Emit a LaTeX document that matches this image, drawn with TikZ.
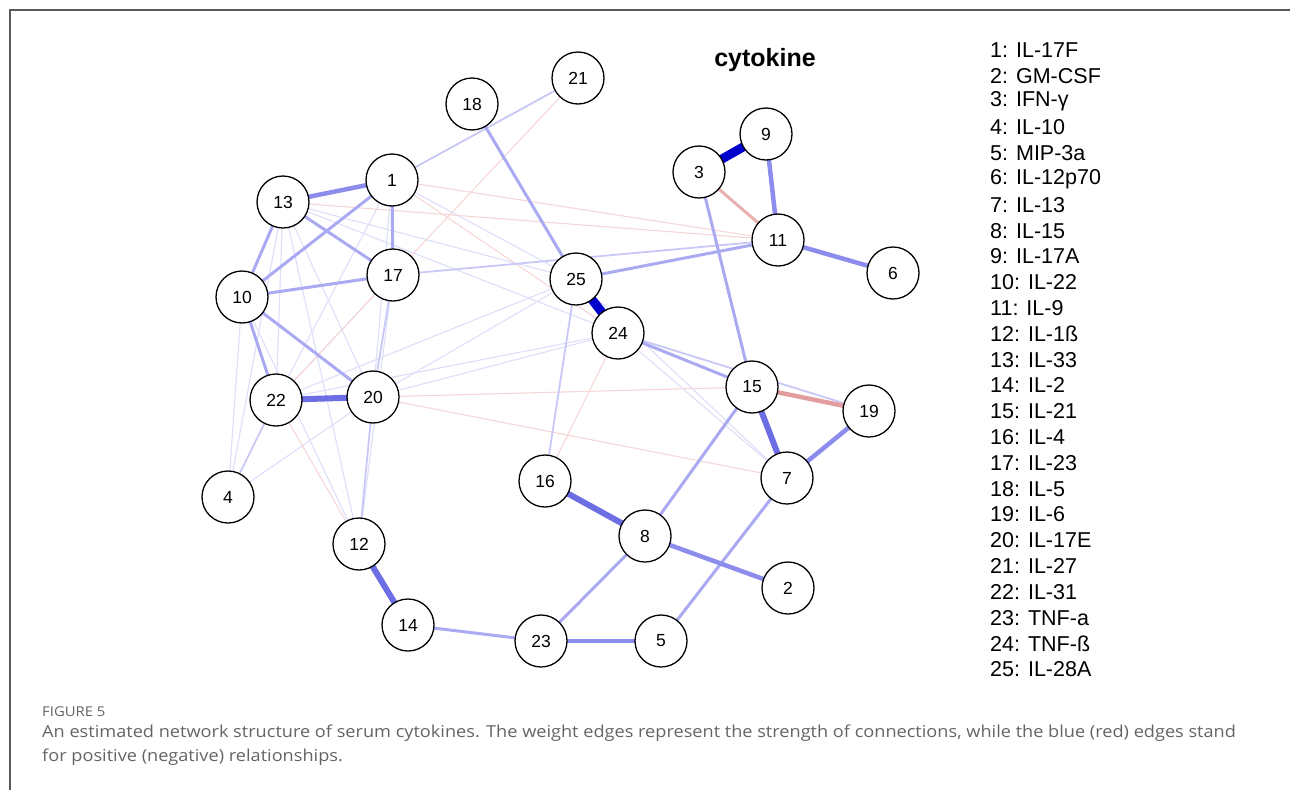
\documentclass[tikz,border=0pt]{standalone}
\usepackage{fontspec}
\setmainfont{Liberation Sans}
\newfontfamily\capfont[FakeStretch=1.1]{Open Sans}
\pgfdeclarelayer{background}
\pgfsetlayers{background,main}
\definecolor{bA}{RGB}{0,0,205}
\definecolor{bB}{RGB}{110,110,228}
\definecolor{bC}{RGB}{140,140,236}
\definecolor{bD}{RGB}{170,170,242}
\definecolor{bE}{RGB}{200,200,246}
\definecolor{bF}{RGB}{222,222,250}
\definecolor{rA}{RGB}{226,158,158}
\definecolor{rB}{RGB}{232,176,176}
\definecolor{rF}{RGB}{246,214,214}
\definecolor{capgray}{RGB}{100,100,100}
\tikzset{
  cnode/.style={circle, draw=black, line width=1.3pt, fill=white, minimum size=52pt, inner sep=0pt, font=\fontsize{17.5}{17.5}\selectfont},
  ewA/.style={draw=bA, line width=9pt},
  ewB/.style={draw=bB, line width=6pt},
  ewC/.style={draw=bC, line width=4.5pt},
  ewD/.style={draw=bD, line width=3pt},
  ewE/.style={draw=bE, line width=1.8pt},
  ewF/.style={draw=bF, line width=1.1pt},
  erA/.style={draw=rA, line width=4.5pt},
  erB/.style={draw=rB, line width=3pt},
  erF/.style={draw=rF, line width=1.1pt},
  legend/.style={anchor=west, inner sep=0pt, font=\fontsize{21.5}{21.5}\selectfont},
  captext/.style={anchor=west, inner sep=0pt, text=capgray, font=\capfont\fontsize{16.5}{16.5}\selectfont},
}
\begin{document}
\begin{tikzpicture}[x=1pt,y=-1pt]
\useasboundingbox (0,0) rectangle (1290,790);
% frame
\draw[line width=1.5pt, color=black!65] (10,790) -- (10,10) -- (1290,10);
% nodes
\node[cnode] (n1) at (392,180) {1};
\node[cnode] (n2) at (788,588) {2};
\node[cnode] (n3) at (699,172) {3};
\node[cnode] (n4) at (228,497) {4};
\node[cnode] (n5) at (661,641) {5};
\node[cnode] (n6) at (893,273) {6};
\node[cnode] (n7) at (787,478) {7};
\node[cnode] (n8) at (645,536) {8};
\node[cnode] (n9) at (766,134) {9};
\node[cnode] (n10) at (242,297) {10};
\node[cnode] (n11) at (778,240) {11};
\node[cnode] (n12) at (359,544) {12};
\node[cnode] (n13) at (283,202) {13};
\node[cnode] (n14) at (408,625) {14};
\node[cnode] (n15) at (752,387) {15};
\node[cnode] (n16) at (545,481) {16};
\node[cnode] (n17) at (393,275) {17};
\node[cnode] (n18) at (472,104) {18};
\node[cnode] (n19) at (869,411) {19};
\node[cnode] (n20) at (373,397) {20};
\node[cnode] (n21) at (578,78) {21};
\node[cnode] (n22) at (276,400) {22};
\node[cnode] (n23) at (541,641) {23};
\node[cnode] (n24) at (618,333) {24};
\node[cnode] (n25) at (576,279) {25};
\begin{pgfonlayer}{background}
% faint edges
\foreach \a/\b in {13/22,13/20,13/4,13/12,10/4,20/4,17/12,17/22,1/20,1/22,25/20,25/22,24/20,24/22,24/7,25/7,13/25,1/25,13/24,10/12}
  \draw[ewF] (n\a.center) -- (n\b.center);
\foreach \a/\b in {22/12,20/15,20/7,24/16,21/22,1/11,13/11,1/24}
  \draw[erF] (n\a.center) -- (n\b.center);
\foreach \a/\b in {22/4,20/12,17/20,25/16,17/11,21/1,24/19}
  \draw[ewE] (n\a.center) -- (n\b.center);
% medium edges
\foreach \a/\b in {1/17,13/17,10/1,10/13,10/17,10/22,10/20,25/11,18/25,3/15,24/15,8/15,8/23,7/5,14/23}
  \draw[ewD] (n\a.center) -- (n\b.center);
\foreach \a/\b in {13/1,9/11,19/7,8/2,11/6,23/5}
  \draw[ewC] (n\a.center) -- (n\b.center);
\foreach \a/\b in {22/20,15/7,16/8,12/14}
  \draw[ewB] (n\a.center) -- (n\b.center);
\foreach \a/\b in {25/24,3/9}
  \draw[ewA] (n\a.center) -- (n\b.center);
\draw[erB] (n3.center) -- (n11.center);
\draw[erA] (n15.center) -- (n19.center);
\end{pgfonlayer}
% title
\node[font=\bfseries\fontsize{25}{25}\selectfont] (title) at (765,60) {cytokine};
% legend
\node[legend] (l1) at (990,50) {1: IL-17F};
\node[legend] (l2) at (990,75.8) {2: GM-CSF};
\node[legend] (l3) at (990,101.6) {3: IFN-γ};
\node[legend] (l4) at (990,127.4) {4: IL-10};
\node[legend] (l5) at (990,153.2) {5: MIP-3a};
\node[legend] (l6) at (990,179) {6: IL-12p70};
\node[legend] (l7) at (990,204.8) {7: IL-13};
\node[legend] (l8) at (990,230.6) {8: IL-15};
\node[legend] (l9) at (990,256.4) {9: IL-17A};
\node[legend] (l10) at (990,282.2) {10: IL-22};
\node[legend] (l11) at (990,308) {11: IL-9};
\node[legend] (l12) at (990,333.8) {12: IL-1ß};
\node[legend] (l13) at (990,359.6) {13: IL-33};
\node[legend] (l14) at (990,385.4) {14: IL-2};
\node[legend] (l15) at (990,411.2) {15: IL-21};
\node[legend] (l16) at (990,437) {16: IL-4};
\node[legend] (l17) at (990,462.8) {17: IL-23};
\node[legend] (l18) at (990,488.6) {18: IL-5};
\node[legend] (l19) at (990,514.4) {19: IL-6};
\node[legend] (l20) at (990,540.2) {20: IL-17E};
\node[legend] (l21) at (990,566) {21: IL-27};
\node[legend] (l22) at (990,591.8) {22: IL-31};
\node[legend] (l23) at (990,617.6) {23: TNF-a};
\node[legend] (l24) at (990,643.4) {24: TNF-ß};
\node[legend] (l25) at (990,669.2) {25: IL-28A};
% caption
\node[captext, font=\capfont\fontsize{13.5}{13.5}\selectfont] (figlab) at (42,712) {FIGURE 5};
\node[captext] (cap1) at (42,733) {An estimated network structure of serum cytokines. The weight edges represent the strength of connections, while the blue (red) edges stand};
\node[captext] (cap2) at (42,757) {for positive (negative) relationships.};
\end{tikzpicture}
\end{document}
